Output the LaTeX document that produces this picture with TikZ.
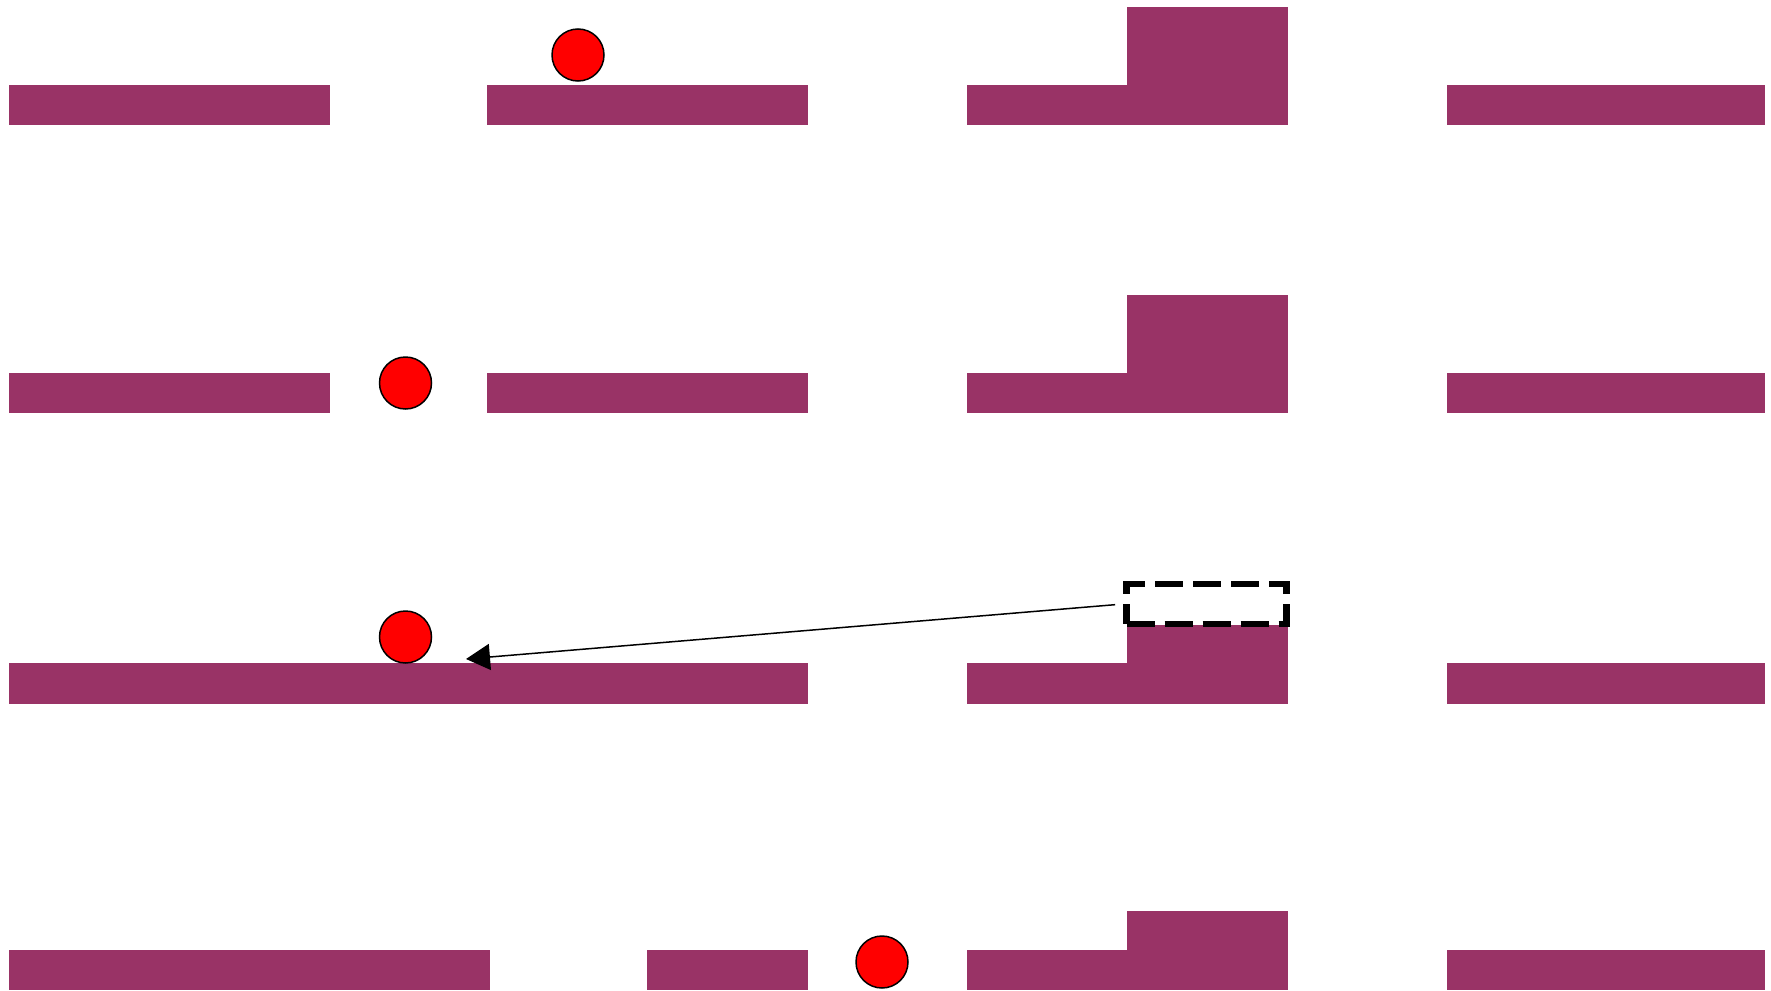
\documentclass[tikz,border=0pt]{standalone}
\usetikzlibrary{arrows.meta}
\definecolor{plum}{HTML}{993366}
\begin{document}
\begin{tikzpicture}[x=1pt,y=-1pt,
  bar/.style={fill=plum},
  ball/.style={circle, draw=black, line width=1.5pt, fill=red, minimum size=52pt, inner sep=0pt},
  ghost/.style={draw=black, line width=6.7pt, dash pattern=on 28pt off 10pt, minimum width=160pt, minimum height=40pt, inner sep=0pt},
  link/.style={draw=black, line width=1.5pt, -{Triangle[length=24pt,width=26pt]}}]
\useasboundingbox (0,0) rectangle (1771,990);
% row 1
\fill[bar] (9,85) rectangle (330,125);
\fill[bar] (487,85) rectangle (808,125);
\fill[bar] (967,85) rectangle (1288,125);
\fill[bar] (1127,7) rectangle (1288,125);
\fill[bar] (1447,85) rectangle (1765,125);
\node[ball] (b1) at (578,55) {};
% row 2
\fill[bar] (9,373) rectangle (330,413);
\fill[bar] (487,373) rectangle (808,413);
\fill[bar] (967,373) rectangle (1288,413);
\fill[bar] (1127,295) rectangle (1288,413);
\fill[bar] (1447,373) rectangle (1765,413);
\node[ball] (b2) at (405.5,383) {};
% row 3
\fill[bar] (9,663) rectangle (808,704);
\fill[bar] (967,663) rectangle (1288,704);
\fill[bar] (1127,625) rectangle (1288,704);
\fill[bar] (1447,663) rectangle (1765,704);
\node[ball] (b3) at (405.5,637) {};
\node[ghost] (g) at (1206.5,604) {};
\coordinate (tip) at (466,659);
\draw[link, shorten <=8pt] (g.west) -- (tip);
% row 4
\fill[bar] (9,950) rectangle (490,990);
\fill[bar] (647,950) rectangle (808,990);
\fill[bar] (967,950) rectangle (1288,990);
\fill[bar] (1127,911) rectangle (1288,990);
\fill[bar] (1447,950) rectangle (1765,990);
\node[ball] (b4) at (882,962) {};
\end{tikzpicture}
\end{document}
